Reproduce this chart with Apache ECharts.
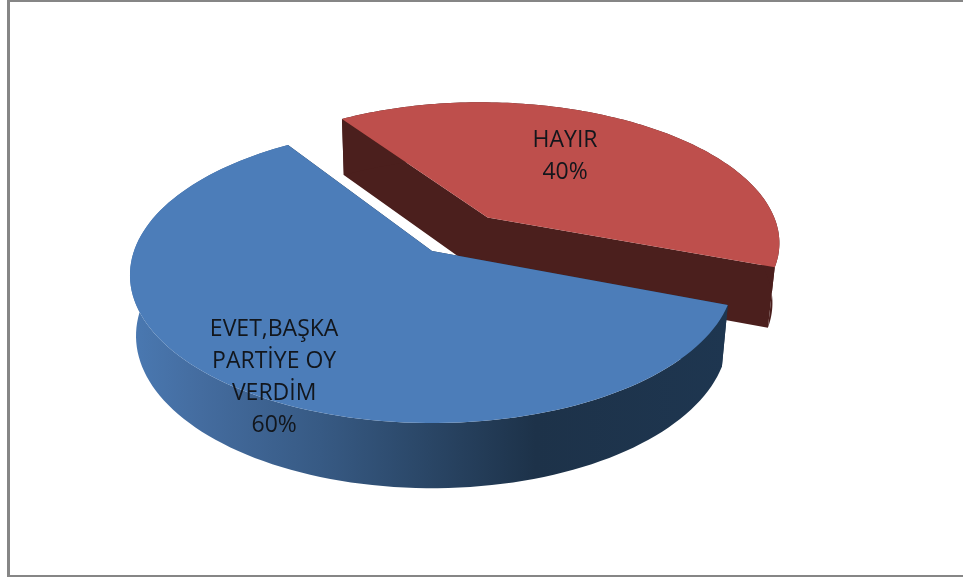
<!DOCTYPE html>
<html>
<head>
<meta charset="utf-8">
<style>html,body{margin:0;padding:0;background:#fff}#c{width:963px;height:579px}</style>
<script src="https://cdn.jsdelivr.net/npm/echarts@6/dist/echarts.min.js"></script>
</head>
<body>
<div id="c"></div>
<script>
var categories = ['EVET,BAŞKA\nPARTİYE OY\nVERDİM', 'HAYIR'];
var values = [60, 40];
var topColors = ['#4c7db9', '#be4f4c'];
var wallColors = ['#1e344c', '#4b1f1d'];
var explode = [0, 0.31];
var labelRadius = [0.895, 0.583];
var labelTurn = [-7.5, -7];
var sliceLayer = [10, 1];

var START = 20.7;
var cx = 432, cy = 251, R = 298, Q = 144, P = 0.163;
var DEPTH = 60, SX = 0.98, SY = 1.03;
var total = values.reduce(function (a, b) { return a + b; }, 0);

function project(u, v) {
  var w = 1 - P * v;
  return [cx + R * u / w, cy + Q * v / w];
}
function lower(p) {
  return [cx + SX * (p[0] - cx), cy + DEPTH + SY * (p[1] - cy)];
}
function rad(d) { return d * Math.PI / 180; }

var blueWall = new echarts.graphic.LinearGradient(129, 0, 727, 0, [
  { offset: 0, color: '#4a79b2' },
  { offset: 0.12, color: '#446c9f' },
  { offset: 0.32, color: '#375a84' },
  { offset: 0.5, color: '#2a4666' },
  { offset: 0.68, color: '#1d3249' },
  { offset: 1, color: '#1e3650' }
], true);

function renderSlice(params, api) {
  var i = params.dataIndex;
  var before = 0;
  for (var k = 0; k < i; k++) before += values[k];
  var a0 = START + before / total * 360;
  var a1 = a0 + api.value(0) / total * 360;
  var mid = rad((a0 + a1) / 2);
  var ou = explode[i] * Math.cos(mid), ov = explode[i] * Math.sin(mid);
  var apex = project(ou, ov);
  var rim = [];
  for (var d = 0; d <= 120; d++) {
    var t = rad(a0 + (a1 - a0) * d / 120);
    rim.push(project(ou + Math.cos(t), ov + Math.sin(t)));
  }
  var rimLow = rim.map(lower);
  var children = [];
  function poly(points, fill, z) {
    children.push({ type: 'polygon', z2: sliceLayer[i] + z, shape: { points: points }, style: { fill: fill, stroke: null }, silent: true });
  }
  poly([rim[0], apex, rim[120], rimLow[120], lower(apex), rimLow[0]], wallColors[i], 0);
  poly(rim.concat(rimLow.slice().reverse()), i === 0 ? blueWall : wallColors[i], 1);
  poly([apex].concat(rim), topColors[i], 2);

  var lt = mid + rad(labelTurn[i]);
  var lp = project(ou + labelRadius[i] * Math.cos(lt), ov + labelRadius[i] * Math.sin(lt));
  children.push({
    type: 'text',
    z2: 50,
    silent: true,
    style: {
      x: lp[0], y: lp[1],
      text: api.value(1) + '\n' + Math.round(api.value(0) / total * 100) + '%',
      fill: '#12161c',
      font: '23px "Open Sans"',
      align: 'center', verticalAlign: 'middle',
      lineHeight: 32
    }
  });
  return { type: 'group', children: children };
}

var chart = echarts.init(document.getElementById('c'), null, { renderer: 'canvas' });
chart.setOption({
  animation: false,
  backgroundColor: '#ffffff',
  graphic: [
    { type: 'rect', shape: { x: 8, y: 0, width: 955, height: 2 }, style: { fill: '#868686' }, silent: true },
    { type: 'rect', shape: { x: 7, y: 0, width: 3, height: 577 }, style: { fill: '#868686' }, silent: true },
    { type: 'rect', shape: { x: 8, y: 575, width: 955, height: 2 }, style: { fill: '#868686' }, silent: true }
  ],
  series: [{
    type: 'custom',
    coordinateSystem: 'none',
    renderItem: renderSlice,
    encode: { value: 0 },
    dimensions: ['value', { name: 'name', type: 'ordinal' }],
    data: categories.map(function (c, i) { return [values[i], c]; }),
    z: 2
  }]
});
</script>
</body>
</html>
